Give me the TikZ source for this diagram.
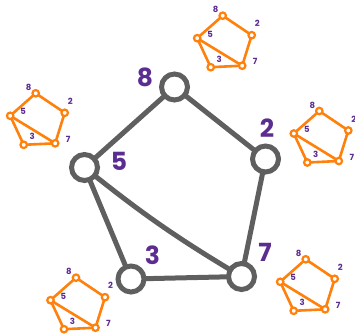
\documentclass[tikz,border=0pt]{standalone}
\usepackage{fontspec}
\newfontfamily\handfont{Poppins}
\usetikzlibrary{positioning}
\definecolor{vertexgray}{RGB}{95, 95, 95}
\definecolor{labelpurple}{RGB}{92, 45, 145}
\definecolor{miniorange}{RGB}{255, 128, 10}

\tikzset{
  bigvertex/.style={draw=vertexgray, line width=5pt, circle, minimum size=26pt, inner sep=0pt, fill=white},
  bigedge/.style={draw=vertexgray, line width=5pt, line cap=round},
  biglabel/.style={text=labelpurple, font=\handfont\fontsize{25}{25}\selectfont\bfseries, inner sep=0pt},
  minivertex/.style={draw=miniorange, line width=2.2pt, circle, minimum size=6.5pt, inner sep=0pt, fill=white},
  miniedge/.style={draw=miniorange, line width=2.6pt, line cap=round},
  minilabel/.style={text=labelpurple, font=\handfont\fontsize{8.5}{8.5}\selectfont\bfseries, inner sep=0pt},
  minigraph/.pic={
    % edges first, vertices on top
    \coordinate (-c8) at (0,0);
    \coordinate (-c2) at (29,19.5);
    \coordinate (-c5) at (-25.5,22.5);
    \coordinate (-c3) at (-12,51.5);
    \coordinate (-c7) at (19.5,50);
    \draw[miniedge] (-c8) -- (-c5);
    \draw[miniedge] (-c8) -- (-c2);
    \draw[miniedge] (-c2) -- (-c7);
    \draw[miniedge] (-c5) -- (-c7);
    \draw[miniedge] (-c5) -- (-c3);
    \draw[miniedge] (-c3) -- (-c7);
    \node[minivertex] (-n8) at (-c8) {};
    \node[minivertex] (-n2) at (-c2) {};
    \node[minivertex] (-n5) at (-c5) {};
    \node[minivertex] (-n3) at (-c3) {};
    \node[minivertex] (-n7) at (-c7) {};
    \node[minilabel] (-l8) at (-7,-6) {8};
    \node[minilabel] (-l2) at (34.5,8) {2};
    \node[minilabel] (-l5) at (-12.5,18.5) {5};
    \node[minilabel] (-l3) at (-3.5,43.5) {3};
    \node[minilabel] (-l7) at (32.5,46) {7};
  }
}

\begin{document}
\begin{tikzpicture}[x=1pt, y=-1pt]
  \useasboundingbox (0,0) rectangle (355,334);

  % big graph
  \coordinate (c8) at (174.5,87);
  \coordinate (c2) at (265.5,159);
  \coordinate (c5) at (84.5,167.5);
  \coordinate (c3) at (131,279);
  \coordinate (c7) at (241.5,276.5);

  \draw[bigedge] (c8) -- (c5);
  \draw[bigedge] (c8) -- (c2);
  \draw[bigedge] (c2) -- (c7);
  \draw[bigedge] (c5) to[bend right=4] (c7);
  \draw[bigedge] (c5) -- (c3);
  \draw[bigedge] (c3) -- (c7);

  \node[bigvertex] (v8) at (c8) {};
  \node[bigvertex] (v2) at (c2) {};
  \node[bigvertex] (v5) at (c5) {};
  \node[bigvertex] (v3) at (c3) {};
  \node[bigvertex] (v7) at (c7) {};

  \node[biglabel] (l8) at (145,77) {8};
  \node[biglabel] (l2) at (267,128) {2};
  \node[biglabel] (l5) at (119,161.5) {5};
  \node[biglabel] (l3) at (152.5,255) {3};
  \node[biglabel] (l7) at (265,252.5) {7};

  % small copies
  \pic (top) at (222.7,15.7) {minigraph};
  \pic (left) at (35.7,93.3) {minigraph};
  \pic (right) at (319.3,111) {minigraph};
  \pic (botleft) at (76,277.7) {minigraph};
  \pic (botright) at (305.7,259.3) {minigraph};
\end{tikzpicture}
\end{document}
